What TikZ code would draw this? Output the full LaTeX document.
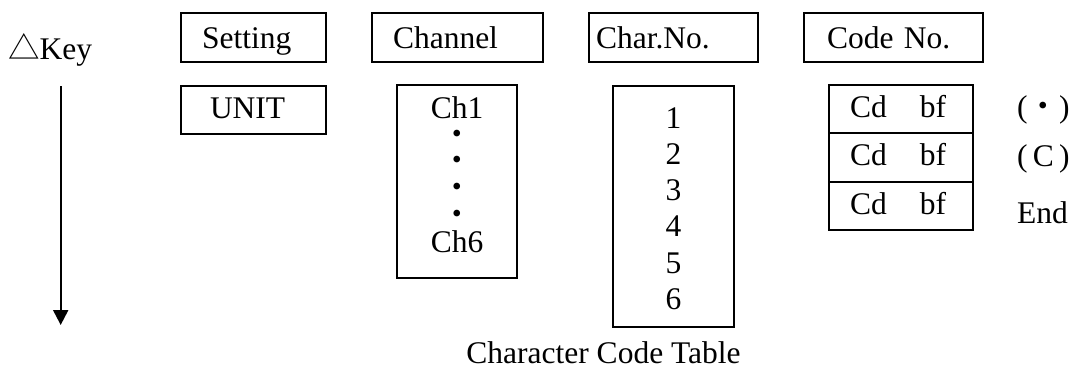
\documentclass[tikz,border=0pt]{standalone}
\usepackage{fontspec}
\setmainfont{Liberation Serif}
\newfontfamily\cjk{Noto Sans CJK JP}
\usetikzlibrary{arrows.meta}
\begin{document}
\begin{tikzpicture}[x=1pt,y=-1pt,
  font=\fontsize{31.5pt}{36pt}\selectfont,
  box/.style={draw, line width=1.6pt, inner ysep=0pt, align=left},
  pad/.style 2 args={inner xsep=#1, text width=#2},
  rowA/.style={box, minimum height=49pt, text height=26pt, text depth=5pt},
  rowB/.style={box, minimum height=48.5pt, text height=24pt, text depth=8pt},
  tallbox/.style={draw, line width=1.6pt, inner sep=0pt},
  txt/.style={inner sep=0pt, anchor=base},
  lbl/.style={inner sep=0pt, anchor=base west},
  keyarrow/.style={line width=2pt, -{Triangle[width=15pt,length=15pt]}}]
\useasboundingbox (0,0) rectangle (1076,372);

% key label and arrow
\node[lbl] (key) at (8,59) {{\cjk △}Key};
\coordinate (atop) at (60.7,86);
\coordinate (abot) at (60.7,325);
\draw[keyarrow] (atop) -- (abot);

% header row
\node[rowA, pad={21pt}{103pt}] (setting) at (253.5,37.5) {Setting};
\node[rowA, pad={21pt}{129pt}] (channel) at (457.5,37.5) {Channel};
\node[rowA, pad={7pt}{155pt}]  (charno)  at (673.5,37.5) {Char.No.};
\node[rowA, pad={23pt}{133pt}] (codeno)  at (893.5,37.5) {Code No.};

% setting column
\node[rowB, pad={29pt}{87pt}] (unit) at (253.5,110) {UNIT};

% channel column
\node[tallbox, minimum width=120pt, minimum height=193pt] (chbox) at (457,181.5) {};
\node[txt] (ch1) at (457,118) {Ch1};
\node[txt] (cd1dot) at (457,145.5) {\cjk ・};
\node[txt] (cd2dot) at (457,171.5) {\cjk ・};
\node[txt] (cd3dot) at (457,198.5) {\cjk ・};
\node[txt] (cd4dot) at (457,225.5) {\cjk ・};
\node[txt] (ch6) at (457,252) {Ch6};

% char no column
\node[tallbox, minimum width=121pt, minimum height=241pt] (charbox) at (673.5,206.5) {};
\node[txt] (n1) at (673.5,128) {1};
\node[txt] (n2) at (673.5,164.3) {2};
\node[txt] (n3) at (673.5,200.6) {3};
\node[txt] (n4) at (673.5,236.9) {4};
\node[txt] (n5) at (673.5,273.2) {5};
\node[txt] (n6) at (673.5,309.5) {6};

% code no column
\node[rowB, pad={21pt}{102pt}] (cd1) at (901,109)   {Cd\hspace*{33pt}bf};
\node[rowB, pad={21pt}{102pt}] (cd2) at (901,157.5) {Cd\hspace*{33pt}bf};
\node[rowB, pad={21pt}{102pt}] (cd3) at (901,206)   {Cd\hspace*{33pt}bf};

\node[lbl] (l1) at (1017,117) {({\cjk ・})};
\node[lbl] (l2) at (1017,166) {(\,C\,)};
\node[lbl] (l3) at (1017,223) {End};

% caption
\node[txt] (title) at (603.5,363) {Character Code Table};
\end{tikzpicture}
\end{document}
